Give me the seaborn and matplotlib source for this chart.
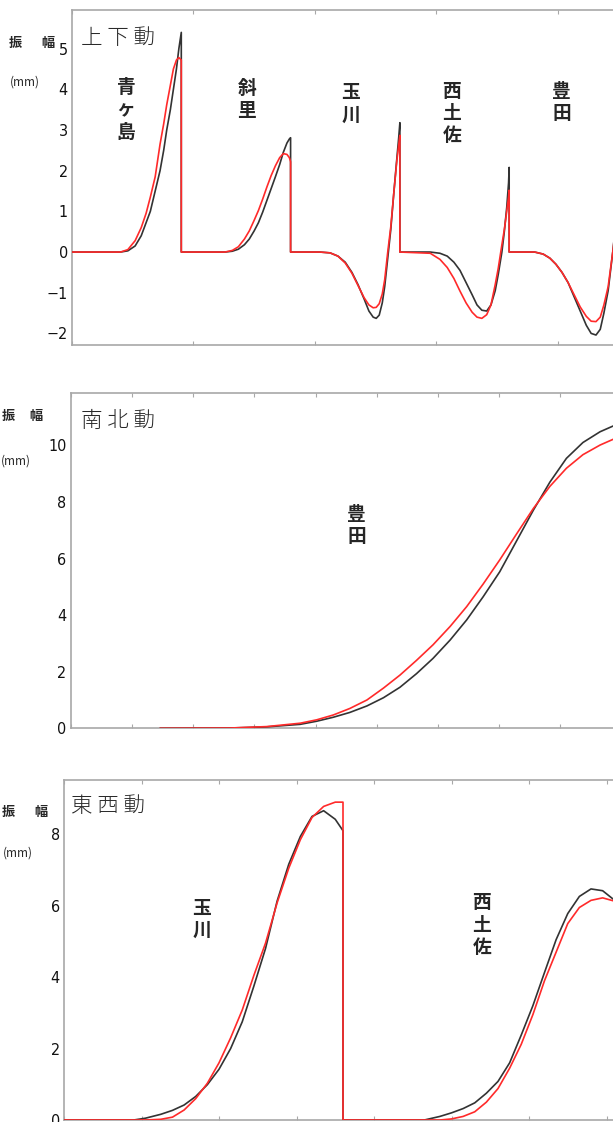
import numpy as np
import pandas as pd
import matplotlib
matplotlib.use("Agg")
import matplotlib.pyplot as plt
import seaborn as sns

sns.set_style("white")
plt.rcParams["font.family"] = ["Noto Sans CJK JP", "DejaVu Sans"]
plt.rcParams["axes.unicode_minus"] = True

NARROW = ["Liberation Sans Narrow", "DejaVu Sans"]
OBS_COLOR = "#333333"
SYN_COLOR = "#ff2a2a"
SPINE_COLOR = "#a8a8a8"

# ---------------- 上下動 (vertical), one 90-sample window per station
ud_window = 90
ud_names = ["青\nヶ\n島", "斜\n里", "玉\n川", "西\n土\n佐", "豊\n田"]

aogashima_t = [0, 40, 46, 52, 57, 61, 64.5, 68.5, 72.5, 75.5, 78, 81, 83.5, 86, 88, 90]
aogashima_obs = [0, 0, 0.03, 0.15, 0.4, 0.72, 1.0, 1.5, 2.0, 2.5, 3.0, 3.5, 4.0, 4.5, 5.0, 5.4]
aogashima_syn = [0, 0, 0.06, 0.28, 0.6, 0.95, 1.35, 1.85, 2.65, 3.15, 3.62, 4.1, 4.5, 4.72, 4.78, 4.72]

shari_t = [0, 36, 42, 47, 52, 56, 60, 63.5, 67, 70.5, 74, 77.5, 81, 84, 87, 89, 90]
shari_obs = [0, 0, 0.02, 0.07, 0.18, 0.32, 0.52, 0.72, 0.98, 1.27, 1.56, 1.85, 2.15, 2.45, 2.68, 2.78, 2.81]
shari_syn = [0, 0, 0.04, 0.13, 0.32, 0.52, 0.78, 1.02, 1.3, 1.6, 1.88, 2.12, 2.32, 2.42, 2.4, 2.32, 2.22]

tamagawa_t = [0, 24, 32.5, 39, 45, 50.5, 55.5, 60.5, 64.5, 68, 70.5, 73, 75.5, 77.5, 80, 82.5, 85, 87.5, 89, 90]
tamagawa_obs = [0, 0, -0.02, -0.1, -0.25, -0.5, -0.8, -1.15, -1.45, -1.6, -1.63, -1.55, -1.25, -0.85,
                -0.15, 0.55, 1.45, 2.3, 2.8, 3.18]
tamagawa_syn = [0, 0, -0.02, -0.1, -0.27, -0.52, -0.82, -1.12, -1.3, -1.37, -1.36, -1.27, -1.03, -0.68,
                0.0, 0.62, 1.45, 2.25, 2.62, 2.87]

nishitosa_t = [0, 25, 33, 39, 44.5, 49.5, 54.5, 59.5, 63.5, 67.5, 71.5, 75, 78.5, 81, 84, 86, 88, 89.5, 90]
nishitosa_obs = [0, 0, -0.03, -0.1, -0.25, -0.45, -0.75, -1.05, -1.3, -1.43, -1.45, -1.3, -0.95, -0.55,
                 0, 0.5, 1.1, 1.7, 2.08]
nishitosa_syn = [0, -0.03, -0.18, -0.38, -0.65, -0.96, -1.25, -1.48, -1.6, -1.63, -1.54, -1.3, -0.8, -0.4,
                 0.18, 0.55, 1.0, 1.35, 1.52]

toyota_t = [0, 21, 28, 33.5, 38.5, 43.5, 48.5, 53.5, 58.5, 63.5, 67.5, 71.5, 75, 78, 81.5, 85.5, 88, 90]
toyota_obs = [0, 0, -0.05, -0.15, -0.3, -0.5, -0.75, -1.1, -1.45, -1.8, -2.0, -2.04, -1.9, -1.5, -0.95,
              0.05, 0.8, 1.5]
toyota_syn = [0, 0, -0.05, -0.15, -0.3, -0.5, -0.75, -1.05, -1.35, -1.58, -1.7, -1.71, -1.6, -1.3, -0.85,
              0.05, 0.7, 1.3]

# ---------------- 南北動 (north-south), 豊田 only
ns_t = [14.6, 26, 32, 37.5, 40.2, 42.9, 45.6, 48.4, 51.1, 53.8, 56.5, 59.2, 62, 64.7, 67.4, 70.1,
        72.8, 75.6, 78.3, 81.0, 83.7, 86.5, 88.6, 90]
ns_obs = [0, 0.01, 0.05, 0.14, 0.25, 0.39, 0.56, 0.79, 1.08, 1.45, 1.93, 2.47, 3.12, 3.83, 4.65, 5.53,
          6.6, 7.71, 8.7, 9.54, 10.1, 10.48, 10.68, 10.78]
ns_syn = [0, 0.01, 0.06, 0.18, 0.3, 0.47, 0.7, 1.0, 1.42, 1.88, 2.4, 2.95, 3.6, 4.3, 5.1, 5.95,
          6.85, 7.77, 8.55, 9.19, 9.67, 10.01, 10.21, 10.3]

# ---------------- 東西動 (east-west), 36-sample windows
ew_window = 36
ew_names = ["玉\n川", "西\n土\n佐"]
ew_tamagawa_t = [0, 9, 10.5, 12.5, 14, 15.5, 17, 18.5, 20, 21.5, 23, 24.5, 26, 27.5, 29, 30.5, 32, 33.5, 35, 36]
ew_tamagawa_obs = [0, 0, 0.05, 0.16, 0.27, 0.42, 0.66, 0.99, 1.42, 2.0, 2.75, 3.75, 4.8, 6.13, 7.16, 7.94,
                   8.5, 8.66, 8.42, 8.1]
ew_tamagawa_syn = [0, 0, 0, 0.02, 0.08, 0.28, 0.6, 1.03, 1.6, 2.3, 3.08, 4.05, 4.95, 6.08, 7.05, 7.85,
                   8.47, 8.78, 8.9, 8.9]
ew_nishitosa_t = [0, 10.5, 12.5, 14, 15.5, 17, 18.5, 20, 21.5, 23, 24.5, 26, 27.5, 29, 30.5, 32, 33.5, 35, 36]
ew_nishitosa_obs = [0, 0, 0.1, 0.2, 0.32, 0.48, 0.75, 1.08, 1.6, 2.38, 3.2, 4.13, 5.05, 5.78, 6.26,
                    6.47, 6.42, 6.16, 5.95]
ew_nishitosa_syn = [0, 0, 0, 0.03, 0.1, 0.23, 0.5, 0.88, 1.45, 2.12, 2.95, 3.9, 4.7, 5.5, 5.95, 6.15,
                    6.22, 6.13, 6.0]


def stack(segments, window):
    # station windows placed one after another on the time axis
    parts = []
    for k, (t, obs, syn) in enumerate(segments):
        tt = np.asarray(t, dtype=float) + k * window
        parts.append(pd.DataFrame({"t": tt, "amp": obs, "kind": "obs"}))
        parts.append(pd.DataFrame({"t": tt, "amp": syn, "kind": "syn"}))
    return pd.concat(parts, ignore_index=True)


ud_df = stack([(aogashima_t, aogashima_obs, aogashima_syn),
               (shari_t, shari_obs, shari_syn),
               (tamagawa_t, tamagawa_obs, tamagawa_syn),
               (nishitosa_t, nishitosa_obs, nishitosa_syn),
               (toyota_t, toyota_obs, toyota_syn)], ud_window)
ns_df = stack([(ns_t, ns_obs, ns_syn)], 0)
ew_df = stack([(ew_tamagawa_t, ew_tamagawa_obs, ew_tamagawa_syn),
               (ew_nishitosa_t, ew_nishitosa_obs, ew_nishitosa_syn)], ew_window)

W, H = 613, 1122
fig = plt.figure(figsize=(W / 100, H / 100), dpi=100)


def px_axes(left, top, width, bottom):
    return fig.add_axes([left / W, 1 - bottom / H, width / W, (bottom - top) / H])


def draw(ax, df, xlim, ylim, xticks, yticks):
    sns.lineplot(data=df, x="t", y="amp", hue="kind", hue_order=["obs", "syn"],
                 palette={"obs": OBS_COLOR, "syn": SYN_COLOR}, estimator=None, sort=False,
                 lw=1.2, legend=False, ax=ax, zorder=3)
    ax.set_xlim(*xlim)
    ax.set_ylim(*ylim)
    ax.set_xticks(xticks)
    ax.set_yticks(yticks)
    ax.set_xlabel("")
    ax.set_ylabel("")
    ax.tick_params(axis="x", direction="in", length=3, width=0.8, color=SPINE_COLOR,
                   top=True, bottom=True, labelbottom=False)
    ax.tick_params(axis="y", direction="out", length=2, width=0.8, color=SPINE_COLOR,
                   pad=1, labelsize=11.5, labelcolor="#111111")
    for lbl in ax.get_yticklabels():
        lbl.set_family(NARROW)
        lbl.set_stretch("condensed")
    for s in ax.spines.values():
        s.set_color(SPINE_COLOR)
        s.set_linewidth(1.2)


def side_label(x1, x2, y1, xm, y2):
    fig.text(x1 / W, 1 - y1 / H, "振", fontsize=9.5, fontweight="bold", ha="center", va="center")
    fig.text(x2 / W, 1 - y1 / H, "幅", fontsize=9.5, fontweight="bold", ha="center", va="center")
    fig.text(xm / W, 1 - y2 / H, "(mm)", fontsize=8.5, ha="center", va="center")


title_kw = dict(fontsize=15.5, fontweight="light", color="#2a2a2a", ha="left", va="center")
name_kw = dict(fontsize=13.5, fontweight="bold", ha="center", va="center", linespacing=1.22)

# top: 上下動
ax1 = px_axes(72, 10, 605, 345)
draw(ax1, ud_df, (0, 498.2), (-2.285, 5.95), np.arange(0, 500, 100), np.arange(-2, 6, 1))
ax1.text(7.5, 5.27, "上 下 動", **title_kw)
for k, (name, yc) in enumerate(zip(ud_names, [3.49, 3.75, 3.64, 3.41, 3.67])):
    xc = [44.5, 143.9, 229.5, 312.7, 403.2][k]
    ax1.text(xc, yc, name, **name_kw)
side_label(15.5, 47.8, 42.7, 25, 81.7)

# middle: 南北動
ax2 = px_axes(70.7, 392.7, 612, 728.3)
draw(ax2, ns_df, (0, 100), (0, 11.86), np.arange(0, 101, 10), np.arange(0, 11, 2))
ax2.text(1.7, 10.87, "南 北 動", **title_kw)
ax2.text(46.7, 7.17, "豊\n田", **name_kw)
side_label(8.7, 36.2, 416, 16, 460.7)

# bottom: 東西動
ax3 = px_axes(64, 780, 620, 1120)
draw(ax3, ew_df, (0, 80), (0, 9.52), np.arange(0, 81, 10), np.arange(0, 9, 2))
ax3.text(0.95, 8.78, "東 西 動", **title_kw)
ax3.text(17.8, 5.62, ew_names[0], **name_kw)
ax3.text(53.9, 5.46, ew_names[1], **name_kw)
side_label(8.8, 40.8, 811.7, 18, 852.7)

fig.savefig("out.png", dpi=100)
